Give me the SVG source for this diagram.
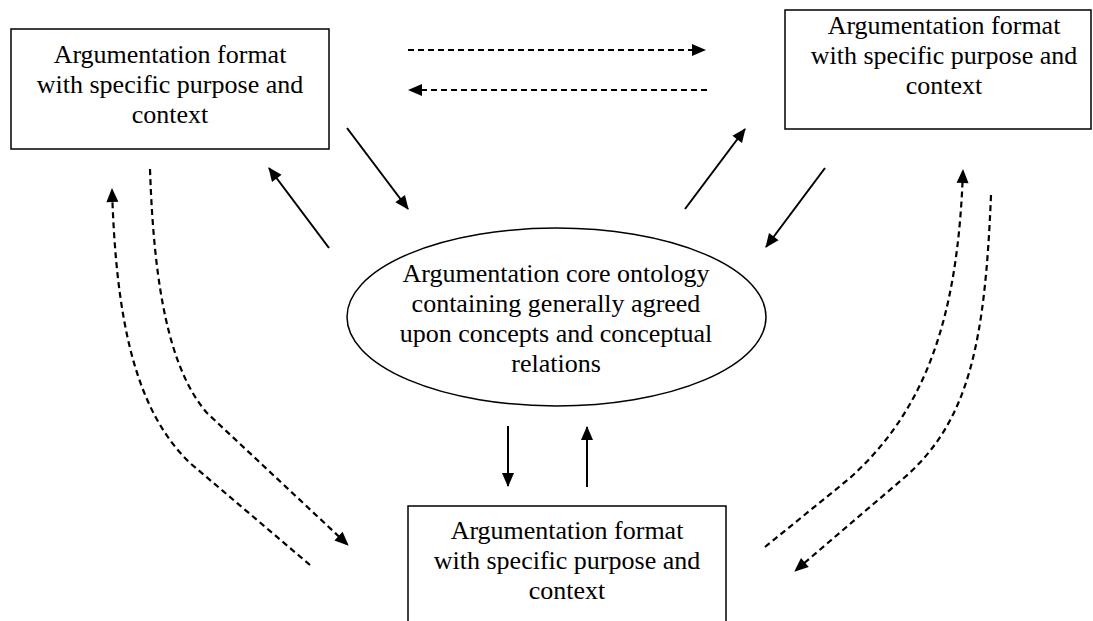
<svg xmlns="http://www.w3.org/2000/svg" width="1093" height="621" viewBox="0 0 1093 621">
<style>
.box{fill:#fff;stroke:#000;stroke-width:1.5}
.lbl{font-family:"Liberation Serif","Times New Roman",serif;font-size:26px;fill:#000;text-anchor:middle}
.solid{fill:none;stroke:#000;stroke-width:2;marker-end:url(#ah)}
.dash{fill:none;stroke:#000;stroke-width:2.2;stroke-dasharray:6,4;marker-end:url(#ah)}
</style>
<defs>
<marker id="ah" markerUnits="userSpaceOnUse" markerWidth="15" markerHeight="13" refX="13" refY="6" orient="auto" overflow="visible">
<path d="M0,0 L14,6 L0,12 z" fill="#000"/>
</marker>
</defs>
<rect width="1093" height="621" fill="#fff"/>
<g id="box-top-left">
<rect class="box" x="11" y="29" width="318" height="120"/>
<text class="lbl" x="170" y="63">Argumentation format</text>
<text class="lbl" x="170" y="93">with specific purpose and</text>
<text class="lbl" x="170" y="123">context</text>
</g>
<g id="box-top-right">
<rect class="box" x="785" y="10" width="306" height="119"/>
<text class="lbl" x="944" y="34">Argumentation format</text>
<text class="lbl" x="944" y="64">with specific purpose and</text>
<text class="lbl" x="944" y="94">context</text>
</g>
<g id="box-bottom">
<rect class="box" x="408" y="506" width="318" height="130"/>
<text class="lbl" x="567" y="539">Argumentation format</text>
<text class="lbl" x="567" y="569">with specific purpose and</text>
<text class="lbl" x="567" y="599">context</text>
</g>
<g id="core-ontology">
<ellipse class="box" cx="556.5" cy="317" rx="209.5" ry="89"/>
<text class="lbl" x="556" y="282">Argumentation core ontology</text>
<text class="lbl" x="556" y="312">containing generally agreed</text>
<text class="lbl" x="556" y="342">upon concepts and conceptual</text>
<text class="lbl" x="556" y="372">relations</text>
</g>
<g id="connectors">
<path class="dash" d="M408,50 L705,50"/>
<path class="dash" d="M707,90 L409,90"/>
<path class="solid" d="M347,128 L408,209"/>
<path class="solid" d="M329,248 L269,168"/>
<path class="solid" d="M685,209 L745,129"/>
<path class="solid" d="M825,168 L766,247"/>
<path class="solid" d="M508,426 L508,486"/>
<path class="solid" d="M587,487 L587,427"/>
<path class="dash" d="M310,565 L190,463 C135,410 116,320 112,189"/>
<path class="dash" d="M150,169 C154,290 170,370 207,413 L348,545"/>
<path class="dash" d="M765,547 L850,478 C925,410 958,320 963,170"/>
<path class="dash" d="M991,195 C985,340 970,420 905,477 L795,571"/>
</g>
</svg>
